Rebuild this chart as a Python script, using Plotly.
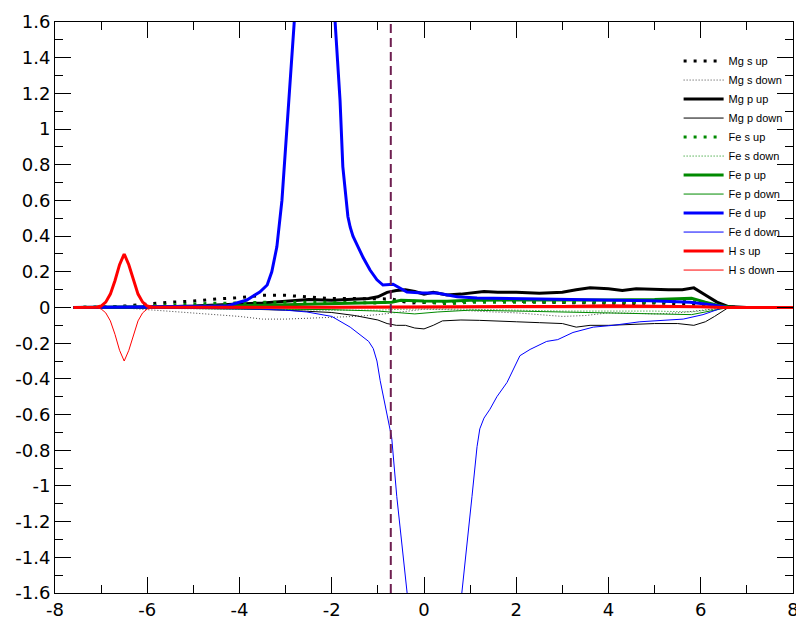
import plotly.graph_objects as go

# ---------------- data ----------------
mg_s_up_x = [-7.6, -7.0, -6.5, -6.0, -5.5, -5.0, -4.5, -4.0, -3.5, -3.0, -2.5, -2.0, -1.5, -1.0, -0.7, -0.5, -0.3, 0.0, 0.5, 1.0, 1.5, 2.0, 2.5, 3.0, 3.5, 4.0, 4.5, 5.0, 5.5, 5.8, 6.2, 6.5, 7.0, 8.0]
mg_s_up_y = [0, 0.002, 0.008, 0.02, 0.03, 0.036, 0.048, 0.055, 0.068, 0.068, 0.06, 0.05, 0.05, 0.05, 0.048, 0.035, 0.025, 0.028, 0.03, 0.035, 0.045, 0.035, 0.03, 0.028, 0.025, 0.025, 0.022, 0.025, 0.022, 0.02, 0.008, 0.002, 0, 0]

mg_s_dn_x = [-7.6, -6.5, -6.0, -5.5, -5.0, -4.5, -4.0, -3.5, -3.0, -2.5, -2.0, -1.5, -1.0, -0.7, -0.4, 0.0, 0.5, 1.0, 1.5, 2.0, 2.5, 3.0, 3.5, 4.0, 4.5, 5.0, 5.5, 6.0, 6.3, 6.6, 8.0]
mg_s_dn_y = [0, -0.003, -0.012, -0.022, -0.03, -0.04, -0.05, -0.065, -0.065, -0.06, -0.055, -0.05, -0.04, -0.03, -0.02, -0.01, -0.012, -0.02, -0.025, -0.03, -0.04, -0.05, -0.045, -0.03, -0.032, -0.036, -0.03, -0.015, -0.006, 0, 0]

mg_p_up_x = [-7.6, -6.0, -5.0, -4.5, -4.0, -3.5, -3.0, -2.5, -2.0, -1.5, -1.2, -1.0, -0.8, -0.6, -0.4, -0.2, 0.0, 0.2, 0.5, 0.8, 1.0, 1.3, 1.6, 2.0, 2.5, 3.0, 3.3, 3.6, 4.0, 4.3, 4.6, 5.0, 5.3, 5.6, 5.85, 6.1, 6.35, 6.6, 7.0, 8.0]
mg_p_up_y = [0, 0.002, 0.008, 0.012, 0.02, 0.025, 0.035, 0.045, 0.04, 0.045, 0.05, 0.06, 0.085, 0.095, 0.1, 0.09, 0.075, 0.085, 0.07, 0.075, 0.08, 0.09, 0.085, 0.085, 0.08, 0.085, 0.1, 0.11, 0.105, 0.095, 0.105, 0.1, 0.1, 0.1, 0.11, 0.07, 0.03, 0.005, 0, 0]

mg_p_dn_x = [-7.6, -6.0, -5.0, -4.0, -3.0, -2.5, -2.0, -1.5, -1.2, -1.0, -0.8, -0.6, -0.4, -0.2, 0.0, 0.2, 0.4, 0.8, 1.2, 1.6, 2.0, 2.5, 3.0, 3.3, 3.6, 4.0, 4.5, 5.0, 5.5, 5.85, 6.1, 6.3, 6.6, 8.0]
mg_p_dn_y = [0, -0.002, -0.004, -0.008, -0.015, -0.02, -0.028, -0.045, -0.058, -0.07, -0.09, -0.1, -0.1, -0.115, -0.12, -0.1, -0.075, -0.07, -0.072, -0.078, -0.08, -0.085, -0.09, -0.11, -0.1, -0.1, -0.093, -0.09, -0.09, -0.1, -0.08, -0.05, 0, 0]

fe_s_up_x = [-7.6, -7.0, -6.5, -6.0, -5.5, -5.0, -4.5, -4.0, -3.5, -3.0, -2.5, -2.0, -1.5, -1.0, -0.5, 0.0, 0.5, 1.0, 2.0, 3.0, 4.0, 5.0, 5.8, 6.2, 6.5, 8.0]
fe_s_up_y = [0, 0.002, 0.005, 0.01, 0.015, 0.02, 0.024, 0.025, 0.03, 0.03, 0.03, 0.03, 0.028, 0.025, 0.04, 0.03, 0.02, 0.03, 0.03, 0.03, 0.028, 0.03, 0.035, 0.012, 0, 0]

fe_s_dn_x = [-7.6, -6.0, -5.0, -4.0, -3.0, -2.0, -1.0, -0.5, 0.0, 1.0, 2.0, 3.0, 4.0, 5.0, 5.8, 6.3, 6.6, 8.0]
fe_s_dn_y = [0, -0.003, -0.006, -0.01, -0.012, -0.015, -0.015, -0.01, -0.008, -0.01, -0.015, -0.02, -0.02, -0.02, -0.025, -0.01, 0, 0]

fe_p_up_x = [-7.6, -6.0, -5.0, -4.0, -3.0, -2.0, -1.5, -1.0, -0.7, -0.5, -0.3, 0.0, 0.5, 1.0, 2.0, 3.0, 4.0, 5.0, 5.5, 5.8, 6.1, 6.4, 6.7, 8.0]
fe_p_up_y = [0, 0.002, 0.005, 0.01, 0.015, 0.02, 0.022, 0.025, 0.03, 0.04, 0.04, 0.036, 0.035, 0.04, 0.042, 0.04, 0.042, 0.045, 0.05, 0.052, 0.03, 0.01, 0, 0]

fe_p_dn_x = [-7.6, -6.0, -5.0, -4.0, -3.0, -2.0, -1.5, -1.0, -0.5, -0.2, 0.3, 1.0, 2.0, 3.0, 4.0, 5.0, 5.8, 6.2, 6.6, 8.0]
fe_p_dn_y = [0, -0.002, -0.004, -0.006, -0.01, -0.012, -0.015, -0.02, -0.03, -0.036, -0.025, -0.015, -0.02, -0.025, -0.03, -0.035, -0.04, -0.02, 0, 0]

fe_d_up_x = [-7.6, -6.5, -6.0, -5.0, -4.5, -4.27, -4.06, -3.84, -3.56, -3.4, -3.3, -3.19, -3.08, -3.01, -2.95, -2.87, -2.8, -2.6, -2.4, -2.2, -2.0, -1.9, -1.82, -1.76, -1.7, -1.65, -1.6, -1.54, -1.43, -1.32, -1.17, -1.02, -0.89, -0.67, -0.37, -0.02, 0.28, 0.72, 1.15, 2.0, 2.73, 3.5, 4.9, 5.77, 6.27, 6.57, 8.0]
fe_d_up_y = [0, 0.002, 0.003, 0.005, 0.007, 0.008, 0.025, 0.042, 0.087, 0.126, 0.2, 0.34, 0.6, 0.88, 1.16, 1.44, 1.75, 2.4, 2.8, 2.5, 1.9, 1.5, 1.16, 0.79, 0.62, 0.51, 0.45, 0.4, 0.34, 0.28, 0.21, 0.155, 0.126, 0.13, 0.087, 0.081, 0.081, 0.06, 0.053, 0.05, 0.048, 0.045, 0.038, 0.03, 0.014, 0, 0]

fe_d_dn_x = [-7.6, -6.0, -5.0, -4.0, -3.5, -3.0, -2.54, -2.0, -1.6, -1.32, -1.2, -1.1, -1.02, -0.95, -0.81, -0.7, -0.59, -0.48, -0.38, -0.2, 0.3, 0.7, 0.82, 0.93, 1.04, 1.15, 1.21, 1.3, 1.43, 1.58, 1.8, 2.08, 2.3, 2.66, 2.9, 3.23, 3.67, 4.1, 4.68, 5.62, 6.05, 6.49, 8.0]
fe_d_dn_y = [0, -0.002, -0.004, -0.007, -0.01, -0.015, -0.025, -0.05, -0.11, -0.165, -0.19, -0.23, -0.3, -0.41, -0.59, -0.73, -1.06, -1.34, -1.6, -2.0, -2.2, -2.0, -1.6, -1.34, -1.06, -0.78, -0.68, -0.62, -0.57, -0.5, -0.42, -0.27, -0.235, -0.19, -0.18, -0.14, -0.11, -0.1, -0.08, -0.065, -0.04, 0, 0]

h_s_up_x = [-7.6, -7.1, -7.0, -6.9, -6.8, -6.7, -6.6, -6.5, -6.4, -6.3, -6.2, -6.1, -6.0, -5.9, -5.5, -4.0, -2.0, 0.0, 2.0, 3.0, 4.0, 5.0, 6.0, 6.5, 8.0]
h_s_up_y = [0, 0.001, 0.008, 0.03, 0.075, 0.15, 0.24, 0.30, 0.24, 0.15, 0.075, 0.03, 0.008, 0.003, 0.002, 0.002, 0.002, 0.002, 0.003, 0.006, 0.01, 0.008, 0.004, 0, 0]

h_s_dn_x = [-7.6, -7.1, -7.0, -6.9, -6.8, -6.7, -6.6, -6.5, -6.4, -6.3, -6.2, -6.1, -6.0, -5.9, -5.5, -4.0, -2.0, 0.0, 2.0, 4.0, 6.0, 6.5, 8.0]
h_s_dn_y = [0, -0.001, -0.008, -0.03, -0.075, -0.15, -0.24, -0.30, -0.24, -0.15, -0.075, -0.03, -0.008, -0.003, -0.002, -0.002, -0.002, -0.002, -0.002, -0.003, -0.002, 0, 0]

fermi_level = -0.72

x_tick_vals = [-8, -6, -4, -2, 0, 2, 4, 6, 8]
x_tick_text = ["-8", "-6", "-4", "-2", "0", "2", "4", "6", "8"]
y_tick_vals = [-1.6, -1.4, -1.2, -1.0, -0.8, -0.6, -0.4, -0.2, 0, 0.2, 0.4, 0.6, 0.8, 1.0, 1.2, 1.4, 1.6]
y_tick_text = ["-1.6", "-1.4", "-1.2", "-1", "-0.8", "-0.6", "-0.4", "-0.2", "0", "0.2", "0.4", "0.6", "0.8", "1", "1.2", "1.4", "1.6"]

# ---------------- figure ----------------
BLACK = "#000000"
GREEN = "#008a00"
BLUE = "#0000ff"
RED = "#ff0000"

series = [
    ("Mg s up", mg_s_up_x, mg_s_up_y, BLACK, 3, "3px,7px"),
    ("Mg s down", mg_s_dn_x, mg_s_dn_y, "#444444", 1, "1px,2px"),
    ("Mg p up", mg_p_up_x, mg_p_up_y, BLACK, 3, "solid"),
    ("Mg p down", mg_p_dn_x, mg_p_dn_y, BLACK, 1, "solid"),
    ("Fe s up", fe_s_up_x, fe_s_up_y, GREEN, 3, "3px,7px"),
    ("Fe s down", fe_s_dn_x, fe_s_dn_y, GREEN, 1, "1px,2px"),
    ("Fe p up", fe_p_up_x, fe_p_up_y, GREEN, 3, "solid"),
    ("Fe p down", fe_p_dn_x, fe_p_dn_y, GREEN, 1, "solid"),
    ("Fe d up", fe_d_up_x, fe_d_up_y, BLUE, 3, "solid"),
    ("Fe d down", fe_d_dn_x, fe_d_dn_y, BLUE, 1, "solid"),
    ("H s up", h_s_up_x, h_s_up_y, RED, 3, "solid"),
    ("H s down", h_s_dn_x, h_s_dn_y, RED, 1, "solid"),
]

fig = go.Figure()
for name, xs, ys, col, w, dash in series:
    fig.add_trace(go.Scatter(x=xs, y=ys, mode="lines", name=name,
                             line=dict(color=col, width=w, dash=dash)))

fig.add_shape(type="line", xref="x", yref="paper", x0=fermi_level, x1=fermi_level,
              y0=0, y1=1, line=dict(color="#6e1f50", width=2, dash="9px,5px"))

axis_common = dict(
    showline=True, linecolor="black", linewidth=1, mirror="allticks",
    ticks="inside", ticklen=16, tickwidth=1, tickcolor="black",
    showgrid=False, zeroline=False, automargin=False,
    ticklabeloverflow="allow",
    tickfont=dict(family="DejaVu Sans", size=18, color="black"),
)

fig.update_layout(
    width=796, height=618,
    margin=dict(l=55, r=3, t=22, b=25),
    paper_bgcolor="white", plot_bgcolor="white",
    xaxis=dict(range=[-8, 8], tickmode="array", tickvals=x_tick_vals, ticktext=x_tick_text,
               minor=dict(tickmode="linear", tick0=-8, dtick=1, ticks="inside", ticklen=8,
                          tickcolor="black", tickwidth=1, showgrid=False),
               **axis_common),
    yaxis=dict(range=[-1.6, 1.6], tickmode="array", tickvals=y_tick_vals, ticktext=y_tick_text,
               minor=dict(tickmode="linear", tick0=-1.6, dtick=0.1, ticks="inside", ticklen=8,
                          tickcolor="black", tickwidth=1, showgrid=False),
               **axis_common),
    showlegend=True,
    legend=dict(x=0.845, xanchor="left", y=0.957, yanchor="top",
                bgcolor="rgba(0,0,0,0)", borderwidth=0,
                font=dict(family="Liberation Sans", size=11, color="black"),
                tracegroupgap=0, itemwidth=40),
)

fig.write_html("out.html", config={"displayModeBar": False},
               post_script="document.body.style.margin='0';document.body.style.overflow='hidden';")
